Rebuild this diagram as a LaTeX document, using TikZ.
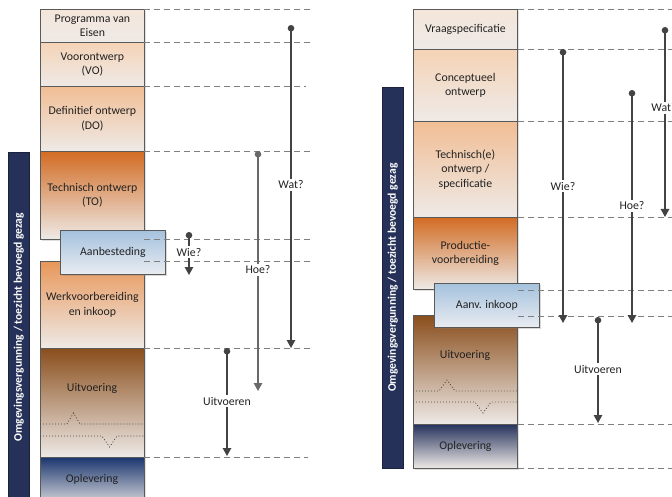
\documentclass[tikz,border=0pt]{standalone}
\usepackage{fontspec}
\setmainfont{Carlito}
\usetikzlibrary{arrows.meta,shadows}

\definecolor{ink}{HTML}{222222}
\definecolor{edge}{HTML}{5A5A5A}
\definecolor{guide}{HTML}{7F7F7F}
\definecolor{flowc}{HTML}{434343}
\definecolor{barnavy}{HTML}{253158}
\definecolor{paleend}{HTML}{EEEAE7}
\definecolor{c-pale}{HTML}{F4E6DA}
\definecolor{c-peach}{HTML}{F5D3B6}
\definecolor{c-apricot}{HTML}{F1BE95}
\definecolor{c-orange}{HTML}{D26C24}
\definecolor{c-tan}{HTML}{E8975A}
\definecolor{c-brown}{HTML}{8A4E1C}
\definecolor{c-navy}{HTML}{1B3770}
\definecolor{c-navyR}{HTML}{28345E}
\definecolor{c-sky}{HTML}{A5C2DE}
\definecolor{c-skyend}{HTML}{E9ECF1}

\tikzset{
  x=1pt, y=-1pt,
  boxfont/.style={font=\fontsize{11.8}{14.5}\selectfont, text=ink},
  phase/.style={draw=edge, line width=0.8pt, inner sep=0pt,
    minimum width=104pt, anchor=north west, align=center, boxfont,
    bottom color=paleend, top color=#1,
    drop shadow={shadow xshift=1.2pt, shadow yshift=-1.2pt, opacity=0.25, fill=gray}},
  phasetext/.style={boxfont, align=center, inner sep=0pt},
  tender/.style={draw=edge, line width=0.8pt, inner sep=0pt,
    minimum width=105pt, minimum height=44pt, anchor=north west, boxfont,
    top color=c-sky, bottom color=c-skyend,
    drop shadow={shadow xshift=1.5pt, shadow yshift=-1.5pt, opacity=0.3, fill=gray}},
  authority/.style={fill=barnavy, draw=barnavy!70!black, line width=0.4pt,
    minimum width=21pt, inner sep=0pt, anchor=north west},
  authtext/.style={rotate=90, text=white, font=\fontsize{11.6}{13}\selectfont\bfseries},
  guideline/.style={draw=guide, line width=0.8pt, dash pattern=on 6pt off 4pt},
  ripple/.style={draw=flowc, line width=0.8pt, dash pattern=on 0.9pt off 2.1pt},
  flow/.style={draw=flowc, line width=1.3pt,
    {Circle[length=6.5pt]}-{Triangle[length=8pt,width=8.5pt]}},
  flowlabel/.style={fill=white, inner sep=1.5pt, boxfont}
}

\begin{document}
\begin{tikzpicture}
\useasboundingbox (0,0) rectangle (672,497);

% ---------------- traditional process (left) ----------------
\node[authority, minimum height=350pt] (barL) at (8,152) {};
\node[authtext] (barLtxt) at (barL.center) {Omgevingsvergunning / toezicht bevoegd gezag};

\node[phase=c-pale,    minimum height=33pt]  (pve)  at (40,9)   {Programma van\\Eisen};
\node[phase=c-peach,   minimum height=44pt]  (vo)   at (40,42)  {Voorontwerp\\(VO)};
\node[phase=c-apricot, minimum height=65pt]  (do)   at (40,86)  {Definitief ontwerp\\(DO)};
\node[phase=c-orange,  minimum height=88pt]  (to)   at (40,151) {Technisch ontwerp\\(TO)};
\node[phase=c-tan,     minimum height=87pt]  (wvb)  at (40,261) {Werkvoorbereiding\\en inkoop};
\node[phase=c-brown,   minimum height=109pt] (uitL) at (40,348) {};
\node[phasetext] (uitLt) at (92,388) {Uitvoering};
\node[phase=c-navy,    minimum height=52pt]  (oplL) at (40,457) {};
\node[phasetext] (oplLt) at (92,479) {Oplevering};
\node[tender] (aanb) at (60,230) {Aanbesteding};

% phase boundaries
\foreach \yy/\xx in {9/310, 42/310, 86/306, 151/310, 239/310, 261/310, 348/310, 457/308}
  \draw[guideline] (144,\yy) -- (\xx,\yy);

% rework ripples inside the execution phase
\draw[ripple] (40,424) -- (67,424) -- (73.5,413) -- (80,424) -- (144,424);
\draw[ripple] (40,436) -- (102,436) -- (109.5,447) -- (117,436) -- (144,436);

% responsibility arrows
\coordinate (watLs) at (291,25);  \coordinate (watLe) at (291,348);
\coordinate (hoeLs) at (258,151); \coordinate (hoeLe) at (258,391);
\coordinate (wieLs) at (189,232); \coordinate (wieLe) at (189,275);
\coordinate (uitLs) at (227,348); \coordinate (uitLe) at (227,456);
\draw[flow] (watLs) -- (watLe);
\draw[flow, draw=flowc!80!white] (hoeLs) -- (hoeLe);
\draw[flow] (wieLs) -- (wieLe);
\draw[flow] (uitLs) -- (uitLe);
\node[flowlabel] (watL) at (291,185) {Wat?};
\node[flowlabel] (hoeL) at (258,270) {Hoe?};
\node[flowlabel] (wieL) at (189,252) {Wie?};
\node[flowlabel] (uitvL) at (227,401) {Uitvoeren};

% ---------------- integrated contract (right) ----------------
\node[authority, minimum height=381pt] (barR) at (382,87) {};
\node[authtext] (barRtxt) at (barR.center) {Omgevingsvergunning / toezicht bevoegd gezag};

\node[phase=c-pale,    minimum height=40pt]  (vrs)  at (413,9)   {Vraagspecificatie};
\node[phase=c-peach,   minimum height=72pt]  (co)   at (413,49)  {Conceptueel\\ontwerp};
\node[phase=c-apricot, minimum height=96pt]  (tos)  at (413,121) {Technisch(e)\\ontwerp /\\specificatie};
\node[phase=c-orange,  minimum height=72pt]  (pvb)  at (413,217) {Productie-\\voorbereiding};
\node[phase=c-brown,   minimum height=109pt] (uitR) at (413,315) {};
\node[phasetext] (uitRt) at (465,355) {Uitvoering};
\node[phase=c-navyR,   minimum height=44pt]  (oplR) at (413,424) {Oplevering};
\node[tender] (inkoop) at (434,283) {Aanv. inkoop};

\foreach \yy in {9, 49, 121, 217, 290, 316, 424, 468}
  \draw[guideline] (518,\yy) -- (672,\yy);

\draw[ripple] (413,391) -- (439,391) -- (447,380) -- (455,391) -- (518,391);
\draw[ripple] (413,402) -- (475,402) -- (483,413) -- (491,402) -- (518,402);

\coordinate (watRs) at (665,27);  \coordinate (watRe) at (665,217);
\coordinate (wieRs) at (563,49);  \coordinate (wieRe) at (563,323);
\coordinate (hoeRs) at (632,90);  \coordinate (hoeRe) at (632,323);
\coordinate (uitRs) at (598,317); \coordinate (uitRe) at (598,423);
\draw[flow] (watRs) -- (watRe);
\draw[flow] (wieRs) -- (wieRe);
\draw[flow] (hoeRs) -- (hoeRe);
\draw[flow] (uitRs) -- (uitRe);
\node[flowlabel] (watR) at (664,108) {Wat?};
\node[flowlabel] (wieR) at (563,186) {Wie?};
\node[flowlabel] (hoeR) at (632,206) {Hoe?};
\node[flowlabel] (uitvR) at (598,369) {Uitvoeren};
\end{tikzpicture}
\end{document}
